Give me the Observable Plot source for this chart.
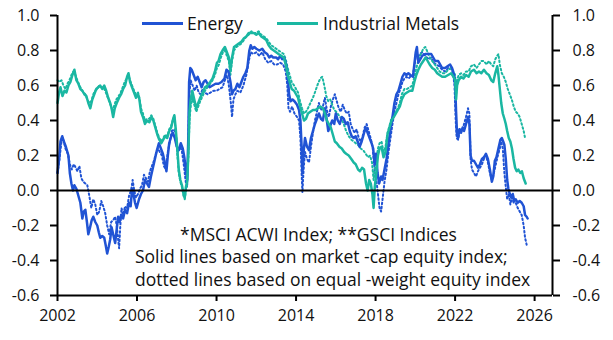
<!DOCTYPE html>
<html>
<head>
<meta charset="utf-8">
<script src="https://cdn.jsdelivr.net/npm/d3@7"></script>
<script src="https://cdn.jsdelivr.net/npm/@observablehq/plot@0.6"></script>
<style>
  body { margin: 0; background: #fff; font-family: "Open Sans", sans-serif; }
  #wrap { position: relative; width: 613px; height: 340px; }
  .lbl { position: absolute; font-size: 17.5px; color: #111; white-space: nowrap; line-height: 1; }
  .sw { position: absolute; height: 2.5px; }
</style>
</head>
<body>
<div id="wrap"></div>
<script>
// ---- Data (year, correlation) ----
const seriesNames = ["Energy", "Industrial Metals"];
const seriesColors = ["#2053d4", "#1ab7a2"];
const notes = ["*MSCI ACWI Index; **GSCI Indices", "Solid lines based on market -cap equity index;", "dotted lines based on equal -weight equity index"];
const xTicks = [2002, 2006, 2010, 2014, 2018, 2022, 2026];
const yTicks = [-0.6, -0.4, -0.2, 0, 0.2, 0.4, 0.6, 0.8, 1.0];

const energySolid = [
[2002.00,0.10],[2002.08,0.18],[2002.15,0.28],[2002.24,0.31],[2002.32,0.28],[2002.42,0.25],[2002.55,0.20],[2002.62,0.10],[2002.70,0.04],[2002.78,0.00],[2002.85,0.03],[2002.95,0.01],
[2003.05,-0.03],[2003.15,-0.07],[2003.25,-0.16],[2003.32,-0.12],[2003.40,-0.11],[2003.48,-0.18],[2003.55,-0.25],[2003.62,-0.22],[2003.72,-0.17],[2003.80,-0.15],[2003.90,-0.18],
[2004.00,-0.20],[2004.08,-0.24],[2004.15,-0.27],[2004.25,-0.26],[2004.35,-0.27],[2004.42,-0.31],[2004.50,-0.36],[2004.58,-0.32],[2004.65,-0.28],[2004.72,-0.21],[2004.80,-0.25],[2004.90,-0.30],[2004.98,-0.22],
[2005.05,-0.15],[2005.12,-0.18],[2005.20,-0.14],[2005.30,-0.16],[2005.40,-0.11],[2005.50,-0.13],[2005.60,-0.07],[2005.68,-0.09],[2005.75,0.01],[2005.82,-0.02],[2005.90,-0.07],[2005.98,-0.10],
[2006.10,-0.05],[2006.20,-0.02],[2006.30,0.00],[2006.40,0.06],[2006.50,0.04],[2006.60,0.02],[2006.70,0.08],[2006.80,0.13],[2006.90,0.18],
[2007.00,0.23],[2007.10,0.27],[2007.20,0.24],[2007.30,0.21],[2007.40,0.16],[2007.48,0.11],[2007.55,0.20],[2007.62,0.27],[2007.72,0.31],[2007.80,0.33],[2007.90,0.30],
[2008.00,0.25],[2008.10,0.23],[2008.20,0.27],[2008.30,0.24],[2008.38,0.19],[2008.45,0.12],[2008.52,0.06],[2008.58,0.30],[2008.62,0.62],[2008.68,0.70],[2008.75,0.69],[2008.85,0.66],[2008.95,0.63],
[2009.05,0.65],[2009.15,0.62],[2009.25,0.59],[2009.35,0.62],[2009.45,0.63],[2009.55,0.61],[2009.65,0.59],[2009.80,0.60],[2009.95,0.61],
[2010.10,0.61],[2010.25,0.62],[2010.40,0.64],[2010.50,0.69],[2010.60,0.68],[2010.70,0.62],[2010.78,0.55],[2010.85,0.57],[2010.95,0.58],
[2011.05,0.61],[2011.15,0.59],[2011.25,0.62],[2011.35,0.65],[2011.45,0.67],[2011.55,0.70],[2011.65,0.80],[2011.72,0.83],[2011.80,0.81],[2011.90,0.82],
[2012.00,0.81],[2012.15,0.80],[2012.30,0.81],[2012.42,0.79],[2012.55,0.78],[2012.65,0.76],[2012.75,0.77],[2012.85,0.76],
[2013.00,0.76],[2013.10,0.75],[2013.20,0.77],[2013.30,0.75],[2013.40,0.76],[2013.50,0.72],[2013.58,0.66],[2013.65,0.55],[2013.72,0.51],[2013.82,0.52],[2013.92,0.51],
[2014.05,0.49],[2014.15,0.46],[2014.22,0.40],[2014.28,0.25],[2014.32,0.10],[2014.38,0.22],[2014.45,0.30],[2014.55,0.25],[2014.65,0.23],[2014.75,0.30],[2014.85,0.34],[2014.95,0.38],
[2015.05,0.41],[2015.15,0.44],[2015.25,0.41],[2015.35,0.40],[2015.45,0.47],[2015.55,0.40],[2015.62,0.34],[2015.72,0.37],[2015.82,0.40],[2015.92,0.38],
[2016.00,0.44],[2016.10,0.40],[2016.20,0.38],[2016.30,0.42],[2016.40,0.41],[2016.50,0.38],[2016.60,0.39],[2016.70,0.34],[2016.80,0.31],[2016.90,0.30],
[2017.00,0.31],[2017.10,0.28],[2017.20,0.25],[2017.30,0.28],[2017.40,0.32],[2017.50,0.36],[2017.60,0.33],[2017.70,0.30],[2017.80,0.27],[2017.88,0.24],[2017.95,0.15],
[2018.02,0.21],[2018.10,0.10],[2018.18,0.04],[2018.28,0.08],[2018.35,0.06],[2018.45,0.12],[2018.55,0.18],[2018.65,0.27],[2018.75,0.35],[2018.85,0.42],[2018.95,0.50],
[2019.05,0.55],[2019.15,0.57],[2019.25,0.61],[2019.35,0.65],[2019.45,0.67],[2019.55,0.66],[2019.65,0.67],[2019.75,0.66],[2019.88,0.65],[2019.95,0.72],
[2020.02,0.79],[2020.08,0.82],[2020.15,0.73],[2020.25,0.75],[2020.35,0.77],[2020.50,0.78],[2020.65,0.78],[2020.80,0.78],[2020.90,0.76],
[2021.00,0.74],[2021.15,0.74],[2021.25,0.72],[2021.35,0.70],[2021.50,0.70],[2021.62,0.71],[2021.75,0.72],[2021.85,0.70],[2021.95,0.66],
[2022.00,0.62],[2022.05,0.45],[2022.10,0.32],[2022.15,0.30],[2022.22,0.35],[2022.30,0.33],[2022.38,0.36],[2022.45,0.34],[2022.55,0.38],[2022.65,0.42],[2022.72,0.38],[2022.78,0.20],[2022.85,0.17],[2022.95,0.17],
[2023.05,0.15],[2023.15,0.13],[2023.25,0.15],[2023.35,0.18],[2023.45,0.19],[2023.55,0.21],[2023.65,0.18],[2023.75,0.12],[2023.85,0.05],[2023.92,0.08],
[2024.00,0.17],[2024.08,0.19],[2024.18,0.24],[2024.28,0.29],[2024.35,0.30],[2024.42,0.28],[2024.48,0.26],[2024.55,0.18],[2024.62,0.06],[2024.68,0.01],[2024.75,-0.02],[2024.82,-0.04],[2024.90,-0.02],[2024.98,-0.06],
[2025.05,-0.05],[2025.15,-0.07],[2025.25,-0.06],[2025.35,-0.07],[2025.45,-0.09],[2025.52,-0.14],[2025.60,-0.15],[2025.65,-0.16]
];

const energyEqual = [
[2002.00,0.10],[2002.10,0.18],[2002.20,0.28],[2002.28,0.30],[2002.40,0.24],[2002.52,0.21],[2002.62,0.15],[2002.72,0.12],[2002.82,0.15],[2002.92,0.13],
[2003.00,0.11],[2003.10,0.14],[2003.20,0.07],[2003.30,0.05],[2003.40,0.04],[2003.50,0.03],[2003.60,-0.03],[2003.70,-0.10],[2003.80,-0.05],[2003.90,-0.08],
[2004.00,-0.14],[2004.10,-0.12],[2004.20,-0.06],[2004.30,-0.09],[2004.40,-0.13],[2004.50,-0.20],[2004.60,-0.25],[2004.70,-0.18],[2004.80,-0.17],[2004.90,-0.15],[2004.98,-0.20],
[2005.05,-0.28],[2005.10,-0.33],[2005.15,-0.22],[2005.22,-0.10],[2005.30,-0.14],[2005.40,-0.09],[2005.50,-0.10],[2005.60,-0.03],[2005.70,0.00],[2005.78,0.06],[2005.86,0.00],[2005.95,-0.04],
[2006.05,-0.02],[2006.15,0.01],[2006.25,0.03],[2006.35,0.09],[2006.45,0.07],[2006.55,0.05],[2006.65,0.11],[2006.75,0.14],[2006.85,0.17],[2006.95,0.21],
[2007.05,0.24],[2007.15,0.22],[2007.25,0.20],[2007.35,0.14],[2007.45,0.12],[2007.55,0.22],[2007.65,0.28],[2007.75,0.34],[2007.85,0.35],[2007.95,0.33],
[2008.05,0.22],[2008.15,0.25],[2008.25,0.23],[2008.35,0.15],[2008.45,0.05],[2008.52,0.02],[2008.58,0.25],[2008.63,0.55],[2008.70,0.63],[2008.80,0.60],[2008.90,0.57],
[2009.00,0.60],[2009.10,0.56],[2009.20,0.55],[2009.30,0.58],[2009.40,0.56],[2009.55,0.55],[2009.70,0.56],[2009.85,0.57],
[2010.00,0.57],[2010.15,0.58],[2010.30,0.59],[2010.42,0.63],[2010.52,0.66],[2010.62,0.60],[2010.72,0.50],[2010.78,0.42],[2010.85,0.52],[2010.95,0.55],
[2011.05,0.57],[2011.20,0.56],[2011.35,0.60],[2011.50,0.66],[2011.62,0.74],[2011.72,0.79],[2011.85,0.78],
[2012.00,0.79],[2012.15,0.77],[2012.30,0.79],[2012.45,0.75],[2012.60,0.73],[2012.75,0.74],[2012.90,0.72],
[2013.05,0.72],[2013.20,0.73],[2013.35,0.72],[2013.48,0.68],[2013.56,0.60],[2013.62,0.47],[2013.70,0.45],[2013.80,0.48],[2013.92,0.44],
[2014.05,0.42],[2014.15,0.40],[2014.22,0.30],[2014.28,0.10],[2014.32,-0.01],[2014.38,0.12],[2014.45,0.22],[2014.55,0.18],[2014.65,0.16],[2014.75,0.25],[2014.85,0.33],[2014.95,0.40],
[2015.05,0.45],[2015.15,0.50],[2015.25,0.46],[2015.35,0.48],[2015.45,0.53],[2015.55,0.46],[2015.65,0.42],[2015.75,0.48],[2015.85,0.52],[2015.95,0.55],
[2016.05,0.51],[2016.15,0.47],[2016.25,0.45],[2016.35,0.49],[2016.45,0.46],[2016.55,0.44],[2016.65,0.45],[2016.75,0.38],[2016.85,0.35],[2016.95,0.33],
[2017.05,0.35],[2017.15,0.30],[2017.25,0.28],[2017.35,0.31],[2017.45,0.36],[2017.55,0.38],[2017.65,0.34],[2017.75,0.30],[2017.85,0.25],[2017.95,0.12],
[2018.05,0.05],[2018.12,-0.02],[2018.20,-0.10],[2018.28,-0.12],[2018.35,-0.05],[2018.45,0.05],[2018.55,0.12],[2018.65,0.22],[2018.75,0.30],[2018.85,0.38],[2018.95,0.45],
[2019.05,0.50],[2019.15,0.55],[2019.25,0.58],[2019.35,0.62],[2019.45,0.64],[2019.55,0.65],[2019.65,0.64],[2019.75,0.65],[2019.88,0.66],[2019.98,0.73],
[2020.05,0.80],[2020.12,0.76],[2020.22,0.78],[2020.35,0.79],[2020.50,0.77],[2020.65,0.75],[2020.80,0.76],[2020.92,0.73],
[2021.05,0.72],[2021.20,0.71],[2021.35,0.69],[2021.50,0.68],[2021.65,0.70],[2021.78,0.70],[2021.90,0.67],[2021.97,0.60],
[2022.03,0.40],[2022.08,0.30],[2022.15,0.29],[2022.25,0.35],[2022.35,0.34],[2022.45,0.38],[2022.55,0.42],[2022.65,0.47],[2022.72,0.44],[2022.78,0.18],[2022.85,0.12],[2022.95,0.10],
[2023.05,0.08],[2023.15,0.11],[2023.25,0.13],[2023.35,0.15],[2023.45,0.18],[2023.55,0.20],[2023.65,0.16],[2023.75,0.10],[2023.85,0.06],[2023.95,0.10],
[2024.05,0.15],[2024.15,0.20],[2024.25,0.24],[2024.32,0.28],[2024.40,0.24],[2024.48,0.10],[2024.55,0.02],[2024.62,-0.05],[2024.70,-0.02],[2024.78,-0.08],[2024.86,-0.04],[2024.95,-0.07],
[2025.05,-0.07],[2025.15,-0.10],[2025.25,-0.12],[2025.35,-0.14],[2025.45,-0.20],[2025.52,-0.27],[2025.60,-0.31]
];

const metalsSolid = [
[2002.00,0.50],[2002.08,0.56],[2002.15,0.59],[2002.25,0.54],[2002.35,0.57],[2002.45,0.56],[2002.55,0.60],[2002.65,0.62],[2002.75,0.66],[2002.85,0.69],[2002.95,0.63],
[2003.05,0.61],[2003.15,0.58],[2003.25,0.57],[2003.35,0.55],[2003.45,0.54],[2003.55,0.50],[2003.65,0.47],[2003.75,0.52],[2003.85,0.55],[2003.95,0.58],
[2004.05,0.59],[2004.15,0.60],[2004.25,0.58],[2004.35,0.60],[2004.45,0.57],[2004.55,0.53],[2004.65,0.50],[2004.72,0.47],[2004.80,0.42],[2004.88,0.47],[2004.98,0.50],
[2005.10,0.53],[2005.20,0.55],[2005.30,0.58],[2005.40,0.60],[2005.50,0.65],[2005.57,0.67],[2005.65,0.62],[2005.75,0.59],[2005.85,0.56],[2005.95,0.53],
[2006.05,0.55],[2006.12,0.52],[2006.20,0.45],[2006.30,0.42],[2006.40,0.38],[2006.50,0.40],[2006.62,0.39],[2006.72,0.42],[2006.82,0.40],[2006.92,0.36],
[2007.02,0.32],[2007.12,0.29],[2007.22,0.27],[2007.32,0.29],[2007.42,0.31],[2007.52,0.30],[2007.62,0.34],[2007.72,0.36],[2007.82,0.41],[2007.88,0.43],[2007.95,0.35],
[2008.02,0.25],[2008.10,0.12],[2008.18,0.06],[2008.26,0.03],[2008.34,-0.02],[2008.40,-0.04],[2008.46,0.02],[2008.52,0.05],[2008.58,0.20],[2008.64,0.45],[2008.70,0.52],[2008.78,0.57],[2008.88,0.52],[2008.98,0.47],
[2009.08,0.50],[2009.18,0.53],[2009.30,0.56],[2009.42,0.59],[2009.55,0.60],[2009.68,0.62],[2009.80,0.64],[2009.92,0.68],
[2010.02,0.73],[2010.10,0.74],[2010.20,0.78],[2010.30,0.80],[2010.42,0.82],[2010.52,0.79],[2010.62,0.76],[2010.70,0.69],[2010.78,0.76],[2010.88,0.82],
[2011.00,0.83],[2011.12,0.84],[2011.25,0.85],[2011.38,0.87],[2011.50,0.88],[2011.62,0.90],[2011.75,0.90],[2011.88,0.90],
[2012.00,0.89],[2012.12,0.90],[2012.25,0.88],[2012.38,0.87],[2012.50,0.86],[2012.62,0.83],[2012.75,0.81],[2012.88,0.80],
[2013.00,0.79],[2013.12,0.78],[2013.25,0.77],[2013.38,0.76],[2013.48,0.72],[2013.58,0.66],[2013.68,0.62],[2013.78,0.58],[2013.90,0.57],
[2014.00,0.55],[2014.10,0.53],[2014.20,0.48],[2014.30,0.44],[2014.40,0.40],[2014.50,0.41],[2014.60,0.44],[2014.72,0.45],[2014.85,0.46],[2014.98,0.46],
[2015.10,0.47],[2015.22,0.48],[2015.35,0.47],[2015.45,0.44],[2015.55,0.40],[2015.65,0.38],[2015.75,0.36],[2015.85,0.32],[2015.95,0.28],
[2016.05,0.27],[2016.18,0.25],[2016.30,0.24],[2016.42,0.22],[2016.52,0.21],[2016.65,0.20],[2016.78,0.18],[2016.90,0.16],
[2017.00,0.15],[2017.12,0.12],[2017.22,0.11],[2017.32,0.13],[2017.42,0.12],[2017.52,0.04],[2017.60,0.00],[2017.68,0.06],[2017.76,0.04],[2017.84,-0.02],[2017.90,-0.10],[2017.96,0.02],
[2018.04,0.10],[2018.12,0.20],[2018.20,0.24],[2018.30,0.25],[2018.40,0.19],[2018.50,0.22],[2018.60,0.32],[2018.70,0.36],[2018.80,0.40],[2018.92,0.42],
[2019.02,0.44],[2019.12,0.46],[2019.22,0.48],[2019.32,0.52],[2019.45,0.55],[2019.58,0.56],[2019.72,0.57],[2019.85,0.57],[2019.95,0.62],
[2020.05,0.66],[2020.15,0.69],[2020.28,0.72],[2020.40,0.74],[2020.52,0.76],[2020.62,0.74],[2020.72,0.72],[2020.85,0.70],[2020.98,0.69],
[2021.10,0.67],[2021.22,0.66],[2021.35,0.65],[2021.50,0.65],[2021.65,0.66],[2021.80,0.67],[2021.92,0.65],
[2022.00,0.63],[2022.05,0.52],[2022.10,0.60],[2022.18,0.63],[2022.30,0.65],[2022.42,0.64],[2022.55,0.66],[2022.68,0.65],[2022.80,0.68],[2022.95,0.69],
[2023.08,0.67],[2023.20,0.68],[2023.32,0.67],[2023.45,0.69],[2023.58,0.67],[2023.70,0.66],[2023.82,0.63],[2023.92,0.62],
[2024.02,0.67],[2024.12,0.71],[2024.18,0.66],[2024.25,0.58],[2024.32,0.50],[2024.40,0.44],[2024.48,0.41],[2024.55,0.38],[2024.62,0.34],[2024.70,0.30],[2024.78,0.28],[2024.86,0.24],[2024.94,0.18],
[2025.02,0.13],[2025.10,0.11],[2025.18,0.12],[2025.28,0.10],[2025.36,0.11],[2025.45,0.07],[2025.55,0.04]
];

const metalsEqual = [
[2002.00,0.63],[2002.10,0.62],[2002.20,0.63],[2002.30,0.60],[2002.40,0.58],[2002.50,0.61],[2002.60,0.63],[2002.70,0.66],[2002.80,0.68],[2002.90,0.66],
[2003.00,0.63],[2003.10,0.60],[2003.20,0.58],[2003.30,0.56],[2003.40,0.55],[2003.50,0.52],[2003.60,0.50],[2003.70,0.51],[2003.80,0.55],[2003.90,0.57],
[2004.00,0.58],[2004.10,0.60],[2004.20,0.59],[2004.30,0.59],[2004.40,0.57],[2004.50,0.54],[2004.60,0.51],[2004.70,0.48],[2004.78,0.45],[2004.86,0.49],[2004.96,0.52],
[2005.08,0.54],[2005.18,0.56],[2005.28,0.59],[2005.38,0.62],[2005.48,0.64],[2005.56,0.66],[2005.65,0.63],[2005.75,0.60],[2005.85,0.57],[2005.95,0.55],
[2006.05,0.56],[2006.12,0.53],[2006.20,0.47],[2006.30,0.44],[2006.40,0.40],[2006.50,0.41],[2006.62,0.41],[2006.72,0.43],[2006.82,0.41],[2006.92,0.37],
[2007.02,0.33],[2007.12,0.30],[2007.22,0.28],[2007.32,0.30],[2007.42,0.32],[2007.52,0.31],[2007.62,0.35],[2007.72,0.37],[2007.82,0.41],[2007.88,0.42],[2007.95,0.33],
[2008.02,0.22],[2008.10,0.10],[2008.18,0.05],[2008.26,0.02],[2008.34,-0.03],[2008.40,-0.05],[2008.46,0.00],[2008.52,0.04],[2008.58,0.18],[2008.64,0.40],[2008.70,0.48],[2008.78,0.53],[2008.88,0.49],[2008.98,0.45],
[2009.08,0.48],[2009.18,0.51],[2009.30,0.54],[2009.42,0.57],[2009.55,0.59],[2009.68,0.61],[2009.80,0.63],[2009.92,0.66],
[2010.02,0.70],[2010.12,0.72],[2010.22,0.76],[2010.32,0.79],[2010.42,0.80],[2010.52,0.77],[2010.62,0.74],[2010.70,0.66],[2010.78,0.74],[2010.88,0.80],
[2011.00,0.82],[2011.12,0.83],[2011.25,0.84],[2011.38,0.86],[2011.50,0.88],[2011.62,0.89],[2011.75,0.91],[2011.88,0.90],
[2012.00,0.90],[2012.12,0.91],[2012.25,0.89],[2012.38,0.88],[2012.50,0.87],[2012.62,0.85],[2012.75,0.83],[2012.88,0.82],
[2013.00,0.81],[2013.12,0.80],[2013.25,0.79],[2013.38,0.78],[2013.48,0.75],[2013.58,0.70],[2013.68,0.66],[2013.78,0.62],[2013.90,0.60],
[2014.00,0.58],[2014.10,0.56],[2014.20,0.51],[2014.30,0.47],[2014.40,0.44],[2014.50,0.45],[2014.60,0.47],[2014.72,0.50],[2014.85,0.53],[2014.98,0.57],
[2015.10,0.61],[2015.22,0.64],[2015.32,0.65],[2015.42,0.60],[2015.52,0.54],[2015.62,0.51],[2015.72,0.52],[2015.82,0.49],[2015.92,0.46],
[2016.02,0.45],[2016.15,0.43],[2016.28,0.41],[2016.40,0.38],[2016.52,0.34],[2016.65,0.31],[2016.78,0.29],[2016.90,0.28],
[2017.00,0.27],[2017.12,0.26],[2017.25,0.24],[2017.38,0.23],[2017.50,0.21],[2017.62,0.19],[2017.72,0.20],[2017.82,0.16],[2017.90,0.06],[2017.96,0.12],
[2018.04,0.18],[2018.12,0.24],[2018.20,0.27],[2018.30,0.28],[2018.40,0.22],[2018.50,0.25],[2018.60,0.33],[2018.70,0.37],[2018.80,0.41],[2018.92,0.43],
[2019.02,0.45],[2019.12,0.47],[2019.22,0.50],[2019.32,0.55],[2019.45,0.58],[2019.58,0.58],[2019.72,0.59],[2019.85,0.60],[2019.95,0.65],
[2020.05,0.70],[2020.15,0.74],[2020.28,0.78],[2020.40,0.81],[2020.50,0.82],[2020.62,0.79],[2020.72,0.76],[2020.85,0.74],[2020.98,0.72],
[2021.10,0.70],[2021.22,0.68],[2021.35,0.67],[2021.50,0.67],[2021.65,0.69],[2021.80,0.70],[2021.92,0.68],
[2022.00,0.66],[2022.05,0.55],[2022.10,0.63],[2022.18,0.66],[2022.30,0.67],[2022.42,0.66],[2022.55,0.68],[2022.68,0.68],[2022.80,0.71],[2022.95,0.72],
[2023.08,0.70],[2023.20,0.72],[2023.32,0.74],[2023.45,0.74],[2023.58,0.72],[2023.70,0.74],[2023.82,0.72],[2023.92,0.71],
[2024.02,0.75],[2024.12,0.77],[2024.18,0.78],[2024.25,0.72],[2024.35,0.67],[2024.45,0.65],[2024.55,0.62],[2024.65,0.58],[2024.75,0.55],[2024.85,0.52],[2024.95,0.48],
[2025.05,0.45],[2025.15,0.44],[2025.25,0.42],[2025.35,0.38],[2025.45,0.34],[2025.52,0.30]
];

// ---- Chart ----
const W = 613, H = 340;
const fmtY = d => Math.abs(d) < 1e-9 ? "0.0" : d.toFixed(1);
const X = d => d[0], Y = d => d[1];
const dotted = {strokeWidth: 2, strokeDasharray: "1.6,2.6", strokeLinejoin: "round"};
const solid = {strokeWidth: 2.5, strokeLinejoin: "round"};

const chart = Plot.plot({
  width: W, height: H,
  marginLeft: 57, marginRight: 61, marginTop: 15, marginBottom: 45,
  style: {fontFamily: "Open Sans, sans-serif", fontSize: "16px", color: "#111", background: "#fff"},
  x: {domain: [2002, 2026.9]},
  y: {domain: [-0.6, 1.0]},
  marks: [
    Plot.line(energyEqual, {x: X, y: Y, stroke: seriesColors[0], ...dotted}),
    Plot.line(metalsEqual, {x: X, y: Y, stroke: seriesColors[1], ...dotted}),
    Plot.line(energySolid, {x: X, y: Y, stroke: seriesColors[0], ...solid}),
    Plot.line(metalsSolid, {x: X, y: Y, stroke: seriesColors[1], ...solid}),
    Plot.ruleY([0], {stroke: "#000", strokeWidth: 2}),
    Plot.ruleY([-0.6], {stroke: "#000", strokeWidth: 2}),
    Plot.ruleX([2002, 2026.9], {stroke: "#000", strokeWidth: 2}),
    Plot.axisY({anchor: "left", ticks: yTicks, tickFormat: fmtY, tickSize: 7, tickPadding: 11, label: null, stroke: "#000", strokeWidth: 2}),
    Plot.axisY({anchor: "right", ticks: yTicks, tickFormat: fmtY, tickSize: 7, tickPadding: 13, label: null, stroke: "#000", strokeWidth: 2}),
    Plot.axisX({ticks: xTicks, tickFormat: d => String(d), tickSize: 6, tickPadding: 8, label: null, stroke: "#000", strokeWidth: 2})
  ]
});

const wrap = document.getElementById("wrap");
wrap.appendChild(chart);

// legend
const legendPos = [{sw: 142, tx: 187}, {sw: 277, tx: 323}];
seriesNames.forEach((name, i) => {
  const s = document.createElement("div");
  s.className = "sw";
  s.style.left = legendPos[i].sw + "px";
  s.style.top = "22px";
  s.style.width = "41px";
  s.style.background = seriesColors[i];
  wrap.appendChild(s);
  const t = document.createElement("div");
  t.className = "lbl";
  t.style.left = legendPos[i].tx + "px";
  t.style.top = "15px";
  t.textContent = name;
  wrap.appendChild(t);
});

// notes
const notePos = [{l: 180, t: 226}, {l: 135, t: 248}, {l: 135, t: 271}];
notes.forEach((n, i) => {
  const t = document.createElement("div");
  t.className = "lbl";
  t.style.left = notePos[i].l + "px";
  t.style.top = notePos[i].t + "px";
  t.textContent = n;
  wrap.appendChild(t);
});
</script>
</body>
</html>
